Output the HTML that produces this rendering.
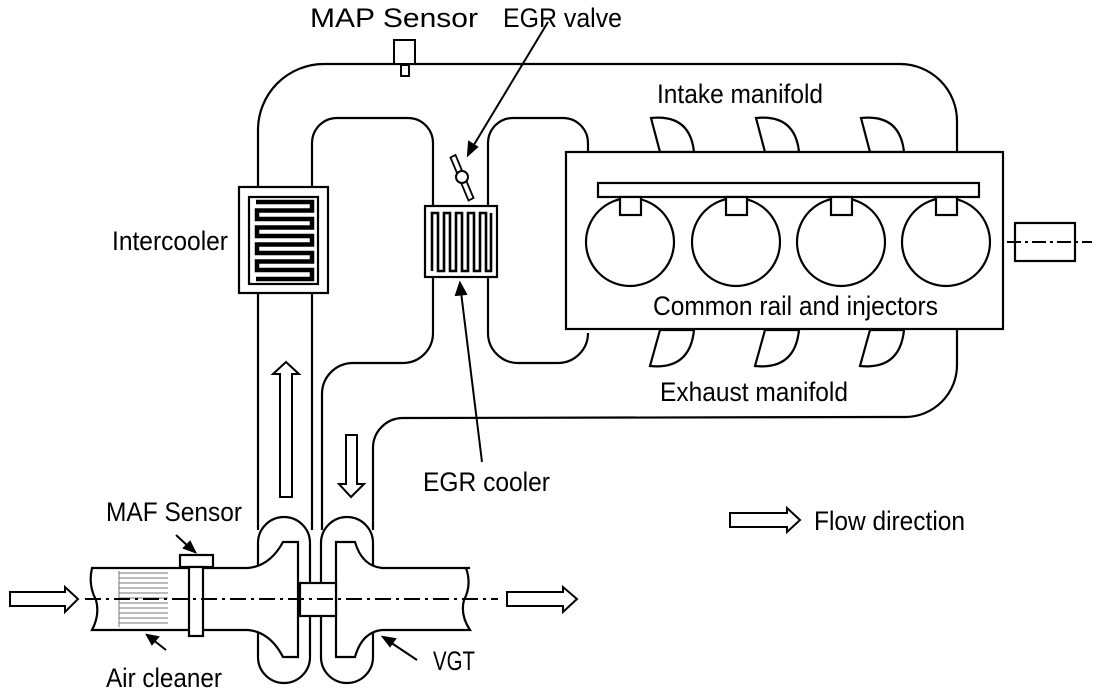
<!DOCTYPE html>
<html><head><meta charset="utf-8"><style>
html,body{margin:0;padding:0;background:#fff;}
svg{display:block;}
text{font-family:"Liberation Sans",sans-serif;font-size:27px;fill:#000;}
</style></head><body>
<svg width="1097" height="692" viewBox="0 0 1097 692" xmlns="http://www.w3.org/2000/svg">
<g fill="none" stroke="#000" stroke-width="2.2">
<path d="M258,530 L258,130 A66,66 0 0 1 324,64 L900,64 A57,57 0 0 1 957,121 L957,365 A52,52 0 0 1 905,417 L403,418 A30,30 0 0 0 373,448 L373,530"/>
<path d="M312,530 L312,143 A25,25 0 0 1 337,118 L408,118 A25,25 0 0 1 433,143 L433,333 A30,30 0 0 1 403,363 L353,363 A31,31 0 0 0 322,394 L322,530"/>
<path d="M588,152 L588,143 A25,25 0 0 0 563,118 L513,118 A25,25 0 0 0 488,143 L488,333 A30,30 0 0 0 518,363 L558,363 A30,30 0 0 0 588,333"/>
</g>
<!-- intercooler -->
<rect x="239" y="187" width="89" height="106" fill="#fff" stroke="#000" stroke-width="2.2"/>
<rect x="249" y="197" width="69" height="87" fill="#fff" stroke="#000" stroke-width="2.2"/>
<path d="M256,202 H312 V210.5 H257 V219 H312 V227.5 H257 V236 H312 V244.5 H257 V253 H312 V261.5 H257 V270 H312 V279 H256" fill="none" stroke="#000" stroke-width="4.5"/>
<!-- EGR cooler -->
<rect x="425" y="206" width="72" height="71" fill="#fff" stroke="#000" stroke-width="2.2"/>
<path d="M432,271 V213 H438 V271 H444 V213 H450 V271 H456 V213 H462 V271 H468 V213 H474 V271 H480 V213 H486 V271 H491 V213" fill="none" stroke="#000" stroke-width="2.6"/>
<!-- EGR valve -->
<polygon points="450.5,157.5 455.5,155 473.5,198 468.5,200.5" fill="#fff" stroke="#000" stroke-width="1.8"/>
<circle cx="462" cy="177" r="6" fill="#fff" stroke="#000" stroke-width="2"/>
<!-- MAP sensor -->
<rect x="394" y="40" width="21" height="24" fill="#fff" stroke="#000" stroke-width="2"/>
<rect x="401" y="65" width="8" height="11" fill="#fff" stroke="#000" stroke-width="2"/>
<!-- engine -->
<g stroke="#000" stroke-width="2.2" fill="#fff">
<path d="M651,118 Q690,114 694,152 L660,152 Z"/>
<path d="M756,118 Q795,114 799,152 L765,152 Z"/>
<path d="M861,118 Q900,114 904,152 L870,152 Z"/>
<path d="M650,366 Q690,370 694,330 L660,330 Z"/>
<path d="M755,366 Q795,370 799,330 L765,330 Z"/>
<path d="M860,366 Q900,370 904,330 L870,330 Z"/>
<rect x="566" y="152" width="437" height="177"/>
<rect x="598" y="183" width="381" height="14"/>
<circle cx="630" cy="242" r="44"/><circle cx="736" cy="242" r="44"/><circle cx="841" cy="242" r="44"/><circle cx="946" cy="242" r="44"/>
<rect x="620" y="197" width="21" height="18"/><rect x="726" y="197" width="21" height="18"/><rect x="831" y="197" width="21" height="18"/><rect x="936" y="197" width="21" height="18"/>
<rect x="1015" y="223" width="60" height="38"/>
</g>
<line x1="1007" y1="242" x2="1092" y2="242" stroke="#000" stroke-width="2" stroke-dasharray="14,4,3,4"/>
<!-- turbo -->
<g stroke="#000" stroke-width="2.2" fill="#fff">
<rect x="258" y="517" width="52" height="166" rx="26"/>
<rect x="321" y="517" width="52" height="166" rx="26"/>
<path d="M92,568 L248,568 Q270,566 283,542 L298,542 L298,657 L283,657 Q270,632 248,630 L92,630 Q100,615 96,600 Q88,585 92,568 Z"/>
<path d="M470,568 L382,568 Q362,566 355,542 L336,542 L336,657 L355,657 Q362,632 382,630 L470,630 Q460,615 464,600 Q472,585 466,568 Z"/>
<rect x="300" y="583" width="36" height="33"/>
<rect x="180" y="555" width="33" height="12"/>
<rect x="189" y="567" width="14" height="69"/>
</g>
<g stroke="#777" stroke-width="1">
<path d="M119,573H168M119,578H168M119,583H168M119,588H168M119,593H168M119,598H168M119,603H168M119,608H168M119,613H168M119,618H168M119,623H168"/>
<line x1="119" y1="571" x2="119" y2="627"/>
</g>
<line x1="85" y1="599" x2="498" y2="599" stroke="#000" stroke-width="2" stroke-dasharray="16,5,3,5"/>
<g fill="#fff" stroke="#000" stroke-width="2">
<path d="M10,592 H65 V587 L78,599 L65,612 V606 H10 Z"/>
<path d="M507,592 H563 V587 L577,599 L563,612 V606 H507 Z"/>
<path d="M730,513 H787 V508 L800,520 L787,532 V527 H730 Z"/>
<path d="M280,497 V374 H273 L286,362 L299,374 H292 V497 Z"/>
<path d="M346,435 V484 H339 L351,497 L364,484 H357 V435 Z"/>
</g>
<g stroke="#000" stroke-width="2" fill="#000">
<line x1="548" y1="22" x2="472" y2="148"/><path d="M468,155 L469,142 L477,147 Z"/>
<line x1="482" y1="462" x2="461" y2="292"/><path d="M460,283 L456,295 L466,294 Z"/>
<line x1="176" y1="535" x2="190" y2="548"/><path d="M195,552 L184,548 L190,542 Z"/>
<line x1="166" y1="650" x2="152" y2="639"/><path d="M147,635 L158,637 L152,644 Z"/>
<line x1="417" y1="660" x2="390" y2="642"/><path d="M383,637 L395,639 L390,646 Z"/>
</g>
<text x="310" y="27" textLength="168" lengthAdjust="spacingAndGlyphs">MAP Sensor</text>
<text x="503" y="27" textLength="119" lengthAdjust="spacingAndGlyphs">EGR valve</text>
<text x="657" y="103" textLength="166" lengthAdjust="spacingAndGlyphs">Intake manifold</text>
<text x="112" y="250" textLength="116" lengthAdjust="spacingAndGlyphs">Intercooler</text>
<text x="653" y="315" textLength="285" lengthAdjust="spacingAndGlyphs">Common rail and injectors</text>
<text x="660" y="401" textLength="188" lengthAdjust="spacingAndGlyphs">Exhaust manifold</text>
<text x="423" y="491" textLength="127" lengthAdjust="spacingAndGlyphs">EGR cooler</text>
<text x="106" y="521" textLength="136" lengthAdjust="spacingAndGlyphs">MAF Sensor</text>
<text x="814" y="530" textLength="151" lengthAdjust="spacingAndGlyphs">Flow direction</text>
<text x="433" y="670" textLength="42" lengthAdjust="spacingAndGlyphs">VGT</text>
<text x="106" y="687" textLength="116" lengthAdjust="spacingAndGlyphs">Air cleaner</text>
</svg>
</body></html>
